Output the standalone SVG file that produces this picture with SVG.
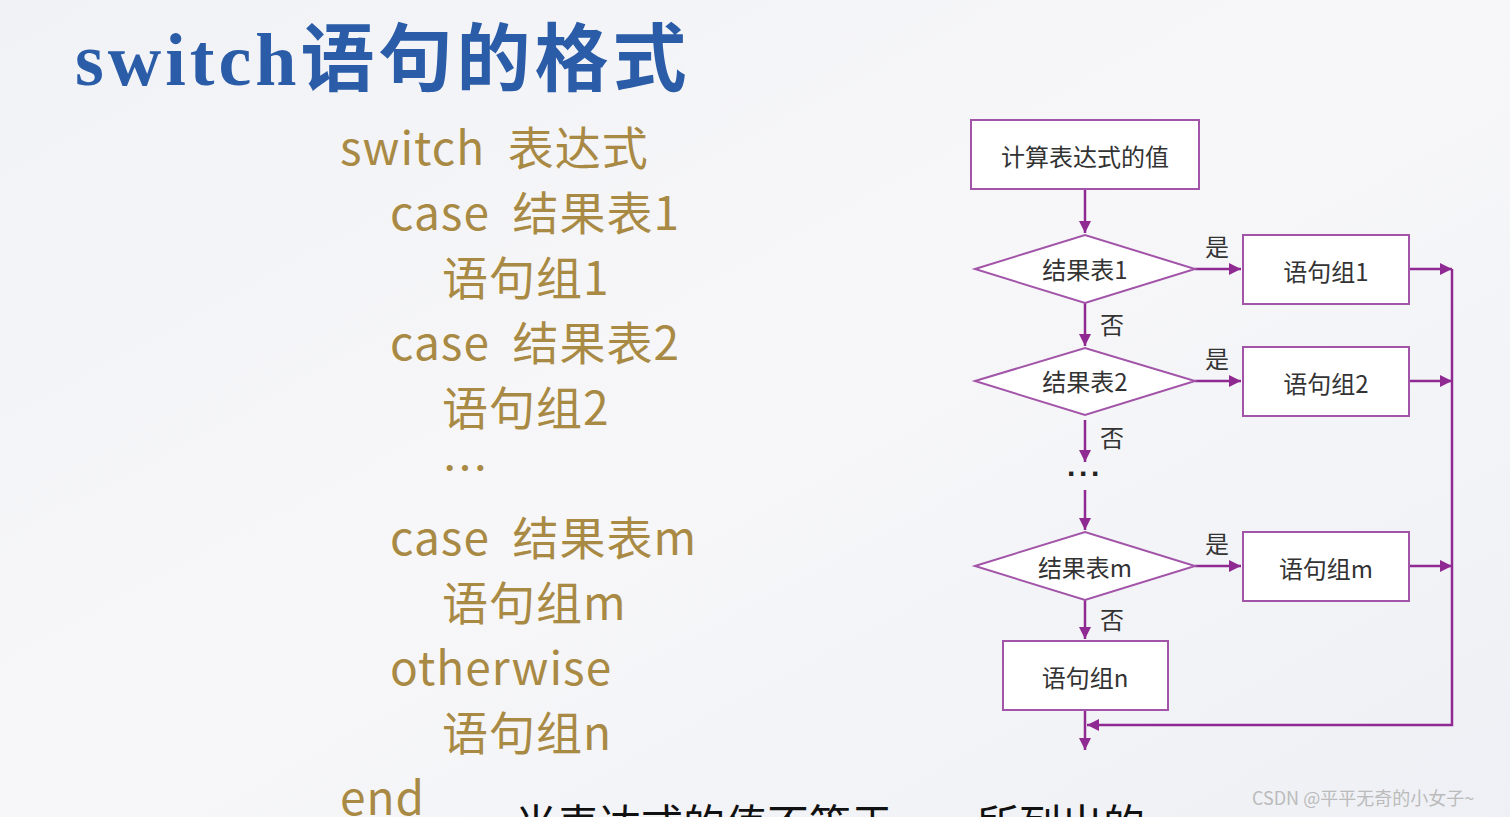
<svg xmlns="http://www.w3.org/2000/svg" width="1510" height="817" viewBox="0 0 1510 817">
<defs>
<linearGradient id="bg" x1="0" y1="0" x2="1" y2="1"><stop offset="0" stop-color="#f1f2f6"/><stop offset="0.5" stop-color="#f7f7f9"/><stop offset="1" stop-color="#eef0f5"/></linearGradient>
<marker id="ah" viewBox="0 0 10 10" refX="10" refY="5" markerWidth="13" markerHeight="12" markerUnits="userSpaceOnUse" orient="auto"><path d="M0,0 L10,5 L0,10 z" fill="#8e2a92"/></marker>
<style>
.code{font-family:"Noto Sans CJK SC","Noto Sans",sans-serif;font-size:46px;fill:#a98a45;letter-spacing:1px}
.fc{font-family:"Noto Sans CJK SC",sans-serif;font-size:24px;fill:#333;text-anchor:middle;dominant-baseline:central}
.lb{font-family:"Noto Sans CJK SC",sans-serif;font-size:24px;fill:#333}
.shape{fill:#fff;stroke:#a254a8;stroke-width:2}
.ln{fill:none;stroke:#8e2a92;stroke-width:2.5}
</style>
</defs>
<rect width="1510" height="817" fill="url(#bg)"/>
<text x="75" y="85" font-family="'Liberation Serif','Noto Sans CJK SC',serif" font-size="74" font-weight="bold" fill="#2a5ca8" letter-spacing="4">switch语句的格式</text>
<g id="code">
<text class="code" x="340" y="165" xml:space="preserve">switch  表达式</text>
<text class="code" x="390" y="230" xml:space="preserve">case  结果表1</text>
<text class="code" x="442" y="295">语句组1</text>
<text class="code" x="390" y="360" xml:space="preserve">case  结果表2</text>
<text class="code" x="442" y="425">语句组2</text>
<text class="code" x="442" y="485">…</text>
<text class="code" x="390" y="555" xml:space="preserve">case  结果表m</text>
<text class="code" x="442" y="620">语句组m</text>
<text class="code" x="390" y="685">otherwise</text>
<text class="code" x="442" y="750">语句组n</text>
<text class="code" x="340" y="815">end</text>
</g>
<g id="connectors">
<path class="ln" d="M1085,189 V233" marker-end="url(#ah)"/>
<path class="ln" d="M1195,269 H1241" marker-end="url(#ah)"/>
<path class="ln" d="M1085,303 V346" marker-end="url(#ah)"/>
<path class="ln" d="M1195,381 H1241" marker-end="url(#ah)"/>
<path class="ln" d="M1085,420 V462" marker-end="url(#ah)"/>
<path class="ln" d="M1085,490 V530" marker-end="url(#ah)"/>
<path class="ln" d="M1195,566 H1241" marker-end="url(#ah)"/>
<path class="ln" d="M1085,600 V639" marker-end="url(#ah)"/>
<path class="ln" d="M1409,269 H1452" marker-end="url(#ah)"/>
<path class="ln" d="M1409,381 H1452" marker-end="url(#ah)"/>
<path class="ln" d="M1409,566 H1452" marker-end="url(#ah)"/>
<path class="ln" d="M1452,269 V725 H1087" marker-end="url(#ah)"/>
<path class="ln" d="M1085,710 V750" marker-end="url(#ah)"/>
<text class="lb" x="1205" y="256">是</text>
<text class="lb" x="1205" y="368">是</text>
<text class="lb" x="1205" y="553">是</text>
<text class="lb" x="1100" y="334">否</text>
<text class="lb" x="1100" y="447">否</text>
<text class="lb" x="1100" y="629">否</text>
<text x="1085" y="484" font-family="'Liberation Sans',sans-serif" font-size="30" font-weight="bold" fill="#222" text-anchor="middle" letter-spacing="2">···</text>
</g>
<g id="start"><rect class="shape" x="971" y="120" width="228" height="69"/><text class="fc" x="1085" y="155">计算表达式的值</text></g>
<g id="d1"><polygon class="shape" points="975,269 1085,235 1195,269 1085,303"/><text class="fc" x="1085" y="268">结果表1</text></g>
<g id="d2"><polygon class="shape" points="975,381 1085,348 1195,381 1085,415"/><text class="fc" x="1085" y="380">结果表2</text></g>
<g id="dm"><polygon class="shape" points="975,566 1085,532 1195,566 1085,600"/><text class="fc" x="1085" y="566">结果表m</text></g>
<g id="s1"><rect class="shape" x="1243" y="235" width="166" height="69"/><text class="fc" x="1326" y="270">语句组1</text></g>
<g id="s2"><rect class="shape" x="1243" y="347" width="166" height="69"/><text class="fc" x="1326" y="382">语句组2</text></g>
<g id="sm"><rect class="shape" x="1243" y="532" width="166" height="69"/><text class="fc" x="1326" y="567">语句组m</text></g>
<g id="sn"><rect class="shape" x="1003" y="641" width="165" height="69"/><text class="fc" x="1085" y="676">语句组n</text></g>
<text x="515" y="840" font-family="'Noto Sans CJK SC',sans-serif" font-size="42" fill="#111">当表达式的值不等于……所列出的</text>
<text x="1252" y="805" font-family="'Noto Sans CJK SC',sans-serif" font-size="18" fill="#bbb">CSDN @平平无奇的小女子~</text>
</svg>
